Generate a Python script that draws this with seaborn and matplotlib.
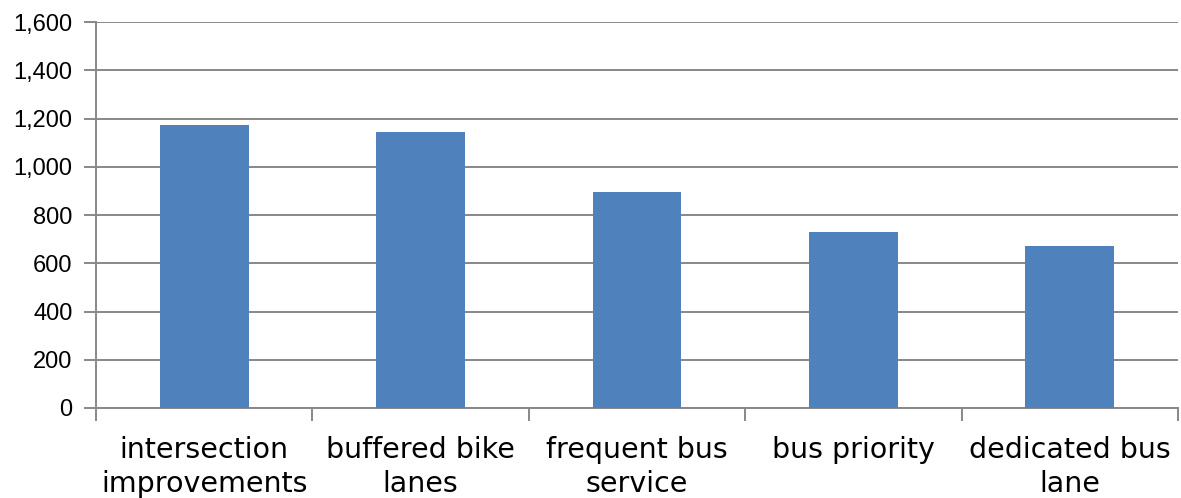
import matplotlib
matplotlib.use('Agg')
import matplotlib.pyplot as plt
import seaborn as sns
import pandas as pd
import numpy as np

# Data
categories = ['intersection\nimprovements', 'buffered bike\nlanes', 'frequent bus\nservice',
              'bus priority', 'dedicated bus\nlane']
values = [1175, 1145, 895, 730, 670]
y_ticks = [0, 200, 400, 600, 800, 1000, 1200, 1400, 1600]

df = pd.DataFrame({'category': categories, 'value': values})

sns.set_style('white')
fig = plt.figure(figsize=(11.81, 4.98), dpi=100)
ax = fig.add_axes([96 / 1181, 1 - 408 / 498, (1178 - 96) / 1181, (408 - 22) / 498])

sns.barplot(data=df, x='category', y='value', color='#4F81BD', saturation=1,
            width=0.41, linewidth=0, ax=ax, zorder=3)

grid_col = '#888888'
ax.set_ylim(0, 1600)
ax.set_xlim(-0.5, len(categories) - 0.5)
ax.set_yticks(y_ticks)
ax.set_yticklabels([f'{v:,}' for v in y_ticks], fontsize=17, family='Liberation Sans', color='black')
ax.yaxis.grid(True, color=grid_col, linewidth=1.4, zorder=0)
ax.set_axisbelow(True)

# category labels, ticks between categories
ax.set_xticks(range(len(categories)))
ax.set_xticklabels(categories, fontsize=20.5, family='DejaVu Sans', linespacing=1.3, color='black')
ax.tick_params(axis='x', which='major', bottom=True, length=0, pad=20)
ax.set_xticks(np.arange(-0.5, len(categories)), minor=True)
ax.tick_params(axis='x', which='minor', bottom=True, length=9, width=1.4, color=grid_col, direction='out')
ax.tick_params(axis='y', left=True, length=9, width=1.4, color=grid_col, direction='out', pad=8)

for s in ['top', 'right']:
    ax.spines[s].set_visible(False)
for s in ['left', 'bottom']:
    ax.spines[s].set_color(grid_col)
    ax.spines[s].set_linewidth(1.4)

ax.set_xlabel('')
ax.set_ylabel('')

fig.savefig('out.png', dpi=100)
